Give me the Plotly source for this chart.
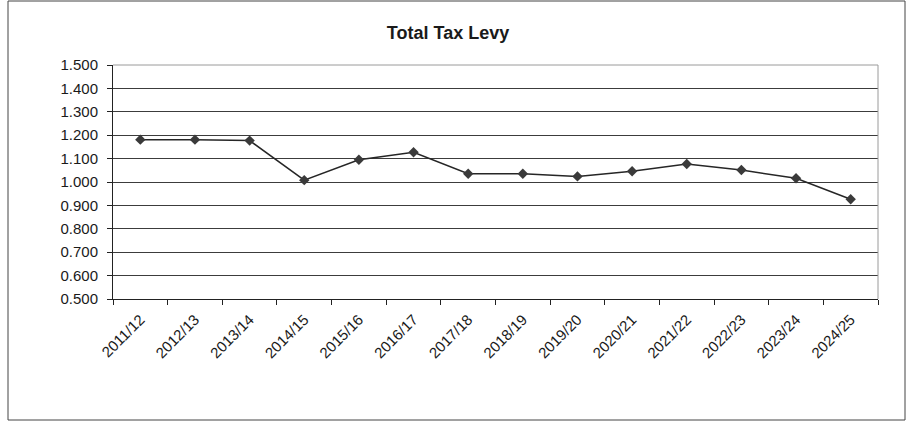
import plotly.graph_objects as go

# Fiscal years and total tax levy values
years = ["2011/12", "2012/13", "2013/14", "2014/15", "2015/16", "2016/17", "2017/18",
         "2018/19", "2019/20", "2020/21", "2021/22", "2022/23", "2023/24", "2024/25"]
levy = [1.181, 1.181, 1.177, 1.008, 1.095, 1.127, 1.035,
        1.035, 1.024, 1.046, 1.077, 1.051, 1.016, 0.926]
y_ticks = [0.5, 0.6, 0.7, 0.8, 0.9, 1.0, 1.1, 1.2, 1.3, 1.4, 1.5]

W, H = 907, 423
ML, MR, MT, MB = 113, 29, 65, 124
plot_w = W - ML - MR
plot_h = H - MT - MB

fig = go.Figure(go.Scatter(
    x=years, y=levy, mode="lines+markers",
    line=dict(color="#262626", width=1.5),
    marker=dict(symbol="diamond", size=8, color="#3a3a3a"),
))

# outer chart frame, converted from pixel positions to paper coordinates
def px_x(p):
    return (p - ML) / plot_w

def px_y(p):
    return (H - MB - p) / plot_h

fig.add_shape(type="rect", xref="paper", yref="paper",
              x0=px_x(8), x1=px_x(905), y0=px_y(420), y1=px_y(1),
              line=dict(color="#444", width=1), fillcolor="rgba(0,0,0,0)", layer="below")

fig.update_layout(
    width=W, height=H,
    margin=dict(l=ML, r=MR, t=MT, b=MB),
    paper_bgcolor="white", plot_bgcolor="white",
    font=dict(family="Liberation Sans, Arial, sans-serif", color="#1a1a1a"),
    showlegend=False,
    title=dict(text="<b>Total Tax Levy</b>", x=448 / W, xref="container", xanchor="center",
               y=1 - 33 / H, yref="container", yanchor="middle",
               font=dict(size=18, color="#1a1a1a")),
    xaxis=dict(
        type="category", range=[-0.5, len(years) - 0.5],
        tickson="boundaries", ticks="outside", ticklen=5,
        tickcolor="#222", tickangle=-45, tickfont=dict(size=15),
        ticklabelstandoff=5,
        showline=True, linecolor="#222", linewidth=1, mirror=False,
        showgrid=False, zeroline=False,
    ),
    yaxis=dict(
        range=[0.5, 1.5], tickvals=y_ticks, tickformat=".3f",
        ticks="outside", ticklen=5, tickcolor="#222", tickfont=dict(size=15),
        ticklabelstandoff=6,
        showline=True, linecolor="#222", linewidth=1,
        showgrid=True, gridcolor="#3c3c3c", gridwidth=1, zeroline=False,
    ),
)

# light border on the top and right of the plot area
fig.add_shape(type="line", xref="paper", yref="paper", x0=0, x1=1, y0=1, y1=1,
              line=dict(color="#9a9a9a", width=1))
fig.add_shape(type="line", xref="paper", yref="paper", x0=1, x1=1, y0=0, y1=1,
              line=dict(color="#9a9a9a", width=1))

fig.write_html("out.html")
